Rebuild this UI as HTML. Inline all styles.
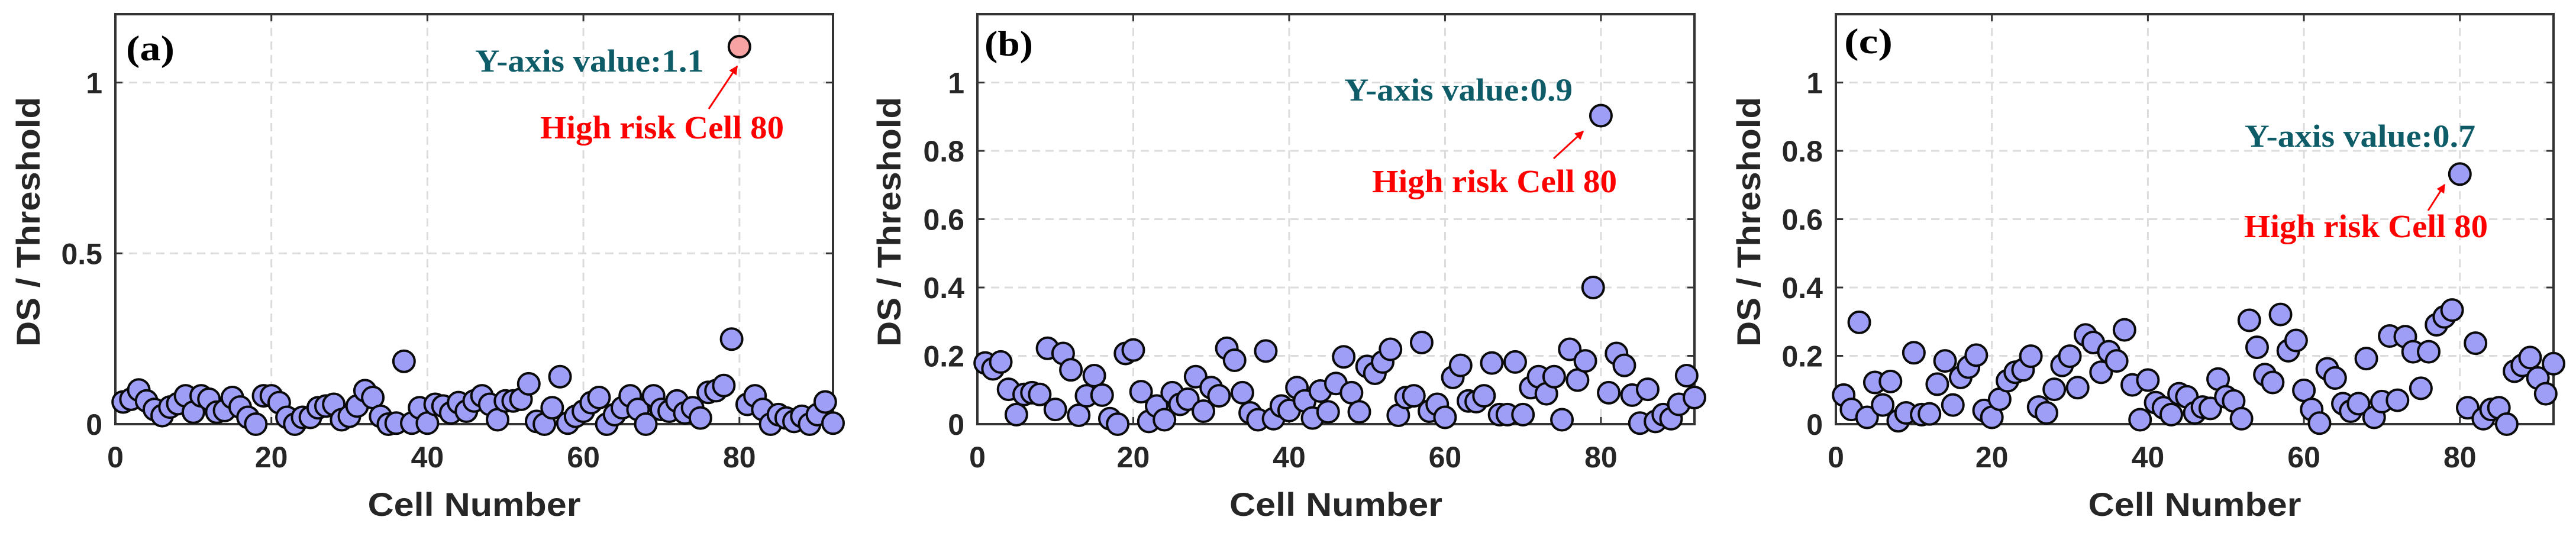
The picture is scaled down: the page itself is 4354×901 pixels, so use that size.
<!DOCTYPE html>
<html><head><meta charset="utf-8"><style>html,body{margin:0;padding:0;background:#fff}svg{display:block}</style></head>
<body>
<svg id="fig" width="4354" height="901" viewBox="0 0 4354 901" xmlns="http://www.w3.org/2000/svg"></svg>
<script>
const cells = Array.from({length:92},(_, i)=>i+1);
const seriesA = [0.065,0.073,0.10,0.068,0.043,0.025,0.05,0.06,0.083,0.035,0.083,0.073,0.035,0.04,0.078,0.05,0.02,0.0,0.083,0.083,0.063,0.02,0.0,0.02,0.02,0.048,0.053,0.058,0.013,0.023,0.053,0.098,0.078,0.023,0.0,0.003,0.184,0.003,0.048,0.003,0.058,0.053,0.033,0.063,0.038,0.068,0.083,0.058,0.013,0.068,0.068,0.073,0.118,0.008,0.0,0.048,0.139,0.003,0.023,0.038,0.063,0.078,0.0,0.028,0.048,0.083,0.043,0.0,0.083,0.043,0.038,0.068,0.033,0.048,0.018,0.093,0.098,0.113,0.249,1.105,0.058,0.083,0.043,0.0,0.028,0.018,0.008,0.023,0.0,0.028,0.065,0.003];
const seriesB = [0.179,0.162,0.182,0.102,0.028,0.087,0.092,0.087,0.222,0.043,0.207,0.159,0.026,0.083,0.142,0.085,0.016,0.0,0.207,0.217,0.095,0.008,0.053,0.013,0.092,0.058,0.073,0.139,0.038,0.107,0.083,0.222,0.187,0.092,0.033,0.013,0.214,0.016,0.053,0.04,0.107,0.068,0.018,0.097,0.036,0.119,0.197,0.092,0.036,0.169,0.149,0.182,0.219,0.026,0.078,0.083,0.239,0.038,0.058,0.02,0.137,0.172,0.068,0.066,0.083,0.179,0.028,0.028,0.182,0.028,0.107,0.139,0.089,0.139,0.013,0.219,0.129,0.185,0.40,0.903,0.092,0.207,0.172,0.085,0.003,0.102,0.008,0.028,0.016,0.058,0.142,0.078];
const seriesC = [0.085,0.043,0.298,0.02,0.122,0.056,0.125,0.01,0.033,0.209,0.028,0.03,0.117,0.185,0.056,0.137,0.167,0.202,0.04,0.02,0.073,0.127,0.152,0.159,0.199,0.05,0.033,0.102,0.172,0.199,0.107,0.261,0.239,0.152,0.212,0.185,0.276,0.115,0.013,0.129,0.063,0.048,0.028,0.089,0.08,0.033,0.05,0.046,0.132,0.08,0.068,0.016,0.304,0.225,0.145,0.122,0.321,0.215,0.245,0.099,0.043,0.003,0.162,0.135,0.06,0.038,0.06,0.192,0.02,0.066,0.258,0.07,0.256,0.212,0.105,0.212,0.291,0.314,0.334,0.732,0.048,0.237,0.016,0.043,0.048,0.0,0.155,0.172,0.195,0.135,0.089,0.177];
const xTicks = [0,20,40,60,80];
const yTicksA = [0,0.5,1];
const yTickLabelsA = ["0","0.5","1"];
const yTicksBC = [0,0.2,0.4,0.6,0.8,1];
const yTickLabelsBC = ["0","0.2","0.4","0.6","0.8","1"];
const panelLabels = ["(a)","(b)","(c)"];
const annoValues = ["Y-axis value:1.1","Y-axis value:0.9","Y-axis value:0.7"];
const highlightCell = 80;

const NS = "http://www.w3.org/2000/svg";
const svg = document.getElementById('fig');
function mk(tag, attrs, parent){const e=document.createElementNS(NS,tag);for(const k in attrs)e.setAttribute(k,attrs[k]);(parent||svg).appendChild(e);return e;}
const TOP=24, BOT=717, XMAX=92, YMAX=1.2;

const panels = [
 {id:'a',left:195,right:1408,data:seriesA,yt:yTicksA,ytl:yTickLabelsA,title:47,lab:[213,102],
  v:[803,1190,121],h:[913,1325,234],arr:[1198,184,1246,112],hl:true},
 {id:'b',left:1652,right:2864,data:seriesB,yt:yTicksBC,ytl:yTickLabelsBC,title:1502,lab:[1664,94],
  v:[2272,2658,170],h:[2319,2733,325],arr:[2626,268,2676,222],hl:false},
 {id:'c',left:3103,right:4316,data:seriesC,yt:yTicksBC,ytl:yTickLabelsBC,title:2955,lab:[3117,90],
  v:[3794,4184,248],h:[3793,4205,401],arr:[4104,356,4132,312],hl:false}
];
mk('defs',{}).innerHTML='<marker id="ah" viewBox="0 0 10 10" refX="9" refY="5" markerWidth="5" markerHeight="5" orient="auto"><path d="M0,0 L10,5 L0,10 z" fill="#ff0000"/></marker>';

panels.forEach((p,pi)=>{
  const g = mk('g',{});
  
  
  const xs = v => p.left + (p.right-p.left)*v/XMAX;
  const ys = v => BOT - (BOT-TOP)*v/YMAX;
  const L=p.left, R=p.right;
  xTicks.forEach(t=>{ if(t===0)return;
    const l=mk('line',{x1:xs(t),x2:xs(t),y1:TOP,y2:BOT,stroke:'#dcdcdc','stroke-width':3,'stroke-dasharray':'14 9'},g);
    
    
  });
  p.yt.forEach(t=>{ if(t===0)return;
    const l=mk('line',{x1:L,x2:R,y1:ys(t),y2:ys(t),stroke:'#dcdcdc','stroke-width':3,'stroke-dasharray':'14 9'},g);
    
    
  });
  xTicks.forEach(t=>{
    mk('line',{x1:xs(t),x2:xs(t),y1:TOP,y2:TOP+12,stroke:'#333','stroke-width':3},g);
    mk('line',{x1:xs(t),x2:xs(t),y1:BOT,y2:BOT-12,stroke:'#333','stroke-width':3},g);
    const tx=mk('text',{x:xs(t),y:790,'text-anchor':'middle','font-family':'Liberation Sans, Arial, sans-serif','font-weight':'bold','font-size':50,fill:'#262626'},g);
    tx.textContent=String(t);
    
    
  });
  p.yt.forEach((t,i)=>{
    mk('line',{x1:L,x2:L+12,y1:ys(t),y2:ys(t),stroke:'#333','stroke-width':3},g);
    mk('line',{x1:R,x2:R-12,y1:ys(t),y2:ys(t),stroke:'#333','stroke-width':3},g);
    const tx=mk('text',{x:p.left-22,y:ys(t)+18,'text-anchor':'end','font-family':'Liberation Sans, Arial, sans-serif','font-weight':'bold','font-size':50,fill:'#262626'},g);
    tx.textContent=p.ytl[i];
    
    
  });
  const fr=mk('rect',{x:L,y:TOP,width:R-L,height:BOT-TOP,fill:'none',stroke:'#333','stroke-width':4},g);
  
  
  p.data.forEach((v,i)=>{
    const c=cells[i];
    const isHl = p.hl && c===highlightCell;
    const pt=mk('circle',{cx:xs(c),cy:ys(v),r:18,fill:isHl?'#f7a3a3':'#9e9ef7',stroke:'#0a0a0a','stroke-width':4},g);
    
    
  });
  const yt=mk('text',{x:0,y:0,transform:`translate(${p.title+20},375) rotate(-90)`,'text-anchor':'middle','font-family':'Liberation Sans, Arial, sans-serif','font-weight':'bold','font-size':56,fill:'#262626',textLength:422,lengthAdjust:'spacingAndGlyphs'},g);
  yt.textContent='DS / Threshold';
  
  
  const xt=mk('text',{x:(p.left+p.right)/2,y:872,'text-anchor':'middle','font-family':'Liberation Sans, Arial, sans-serif','font-weight':'bold','font-size':56,fill:'#262626',textLength:360,lengthAdjust:'spacingAndGlyphs'},g);
  xt.textContent='Cell Number';
  
  
  const pl=mk('text',{x:p.lab[0],y:p.lab[1],'font-family':'Liberation Serif, Times New Roman, serif','font-weight':'bold','font-size':60,fill:'#000',textLength:82,lengthAdjust:'spacingAndGlyphs'},g);
  pl.textContent=panelLabels[pi];
  
  
  const va=mk('text',{x:p.v[0],y:p.v[2],'font-family':'Liberation Serif, Times New Roman, serif','font-weight':'bold','font-size':54,fill:'#0e5c68',textLength:p.v[1]-p.v[0],lengthAdjust:'spacingAndGlyphs'},g);
  va.textContent=annoValues[pi];
  
  
  const ha=mk('text',{x:p.h[0],y:p.h[2],'font-family':'Liberation Serif, Times New Roman, serif','font-weight':'bold','font-size':55,fill:'#ff0000',textLength:p.h[1]-p.h[0],lengthAdjust:'spacingAndGlyphs'},g);
  ha.textContent='High risk Cell 80';
  
  
  const ar=mk('line',{x1:p.arr[0],y1:p.arr[1],x2:p.arr[2],y2:p.arr[3],stroke:'#ff0000','stroke-width':3,'marker-end':'url(#ah)'},g);
  
  
});
</script>
</body></html>
